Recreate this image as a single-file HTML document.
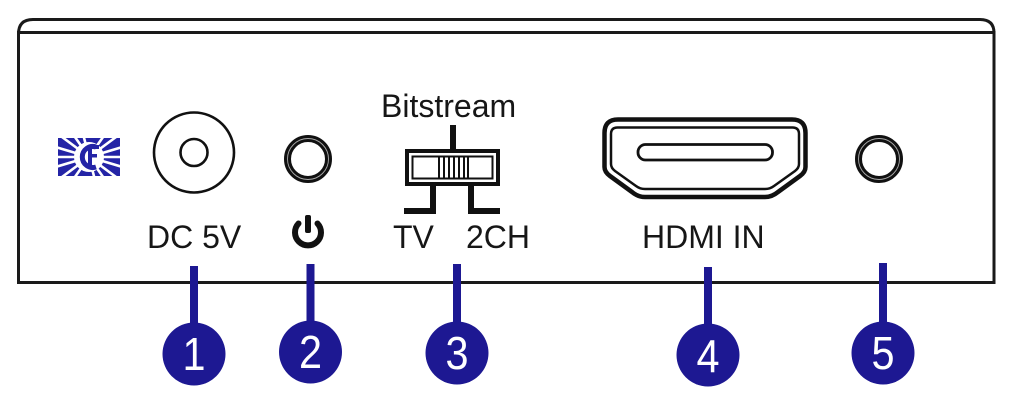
<!DOCTYPE html>
<html>
<head>
<meta charset="utf-8">
<style>
  html,body{margin:0;padding:0;background:#fff;}
  svg{display:block;}
  text{font-family:"Liberation Sans",Arial,sans-serif;}
</style>
</head>
<body>
<svg width="1012" height="405" viewBox="0 0 1012 405" xmlns="http://www.w3.org/2000/svg">
  <rect width="1012" height="405" fill="#fff"/>

  <!-- enclosure -->
  <g fill="none" stroke="#1a1a1a" stroke-width="3">
    <path d="M18.5 34 Q18.5 19.5 33 19.5 L980 19.5 Q994 19.5 994 33"/>
    <line x1="17" y1="32.5" x2="995.5" y2="32.5"/>
    <line x1="18.5" y1="31" x2="18.5" y2="284"/>
    <line x1="994" y1="31" x2="994" y2="284"/>
    <line x1="17" y1="282.5" x2="995.5" y2="282.5"/>
  </g>

  <!-- logo -->
  <defs>
    <clipPath id="lc"><rect x="58" y="138" width="62" height="38"/></clipPath>
  </defs>
  <g clip-path="url(#lc)">
    <rect x="58" y="138" width="62" height="38" fill="#2424a6"/>
    <g stroke="#fff" stroke-width="2.6">
      <line x1="89" y1="157" x2="50" y2="157"/>
      <line x1="89" y1="157" x2="128" y2="157"/>
      <line x1="89" y1="157" x2="52" y2="146"/>
      <line x1="89" y1="157" x2="52" y2="168"/>
      <line x1="89" y1="157" x2="126" y2="146"/>
      <line x1="89" y1="157" x2="126" y2="168"/>
      <line x1="89" y1="157" x2="58" y2="134"/>
      <line x1="89" y1="157" x2="58" y2="180"/>
      <line x1="89" y1="157" x2="120" y2="134"/>
      <line x1="89" y1="157" x2="120" y2="180"/>
      <line x1="89" y1="157" x2="70" y2="130"/>
      <line x1="89" y1="157" x2="70" y2="184"/>
      <line x1="89" y1="157" x2="108" y2="130"/>
      <line x1="89" y1="157" x2="108" y2="184"/>
      <line x1="89" y1="157" x2="82" y2="130"/>
      <line x1="89" y1="157" x2="96" y2="184"/>
    </g>
    <circle cx="89" cy="157" r="15" fill="#fff"/>
    <path d="M96 147 A10.5 10.5 0 1 0 96 167" fill="none" stroke="#2424a6" stroke-width="5"/>
    <rect x="88" y="145" width="4" height="20" fill="#2424a6"/>
    <rect x="88" y="145" width="11" height="4" fill="#2424a6"/>
    <rect x="88" y="154" width="9" height="3.5" fill="#2424a6"/>
  </g>

  <!-- DC jack -->
  <circle cx="194" cy="152.5" r="40" fill="none" stroke="#111" stroke-width="2.6"/>
  <circle cx="194" cy="152.5" r="13.5" fill="none" stroke="#111" stroke-width="2.6"/>

  <!-- LED 2 -->
  <circle cx="308" cy="159" r="20.5" fill="none" stroke="#111" stroke-width="7"/>
  <circle cx="308" cy="159" r="20.5" fill="none" stroke="#aaa" stroke-width="0.9"/>

  <!-- LED 5 -->
  <circle cx="879" cy="159" r="20.5" fill="none" stroke="#111" stroke-width="7"/>
  <circle cx="879" cy="159" r="20.5" fill="none" stroke="#aaa" stroke-width="0.9"/>

  <!-- power icon -->
  <path d="M298.5 223.5 A13 13 0 1 0 317.5 223.5" fill="none" stroke="#111" stroke-width="6" stroke-linecap="round"/>
  <rect x="305" y="215" width="6" height="18" rx="2" fill="#111"/>

  <!-- switch -->
  <rect x="450" y="125" width="6" height="26" fill="#111"/>
  <rect x="407" y="151" width="91" height="33" fill="none" stroke="#111" stroke-width="4"/>
  <rect x="412.5" y="156.5" width="80" height="22" fill="none" stroke="#111" stroke-width="2"/>
  <g stroke="#111" stroke-width="2">
    <line x1="439" y1="156" x2="439" y2="179"/>
    <line x1="444" y1="156" x2="444" y2="179"/>
    <line x1="449" y1="156" x2="449" y2="179"/>
    <line x1="454" y1="156" x2="454" y2="179"/>
    <line x1="459" y1="156" x2="459" y2="179"/>
    <line x1="464" y1="156" x2="464" y2="179"/>
    <line x1="468" y1="156" x2="468" y2="179"/>
  </g>
  <rect x="430" y="185" width="6" height="29" fill="#111"/>
  <rect x="404" y="208" width="32" height="6" fill="#111"/>
  <rect x="468" y="185" width="6" height="29" fill="#111"/>
  <rect x="468" y="208" width="32" height="6" fill="#111"/>

  <!-- HDMI -->
  <path d="M604.5 167 L604.5 133 Q604.5 119.5 618 119.5 L792 119.5 Q805.5 119.5 805.5 133 L805.5 167 Q805.5 172 800 176 L778 192 Q772 197 765 197 L645 197 Q638 197 632 192 L610 176 Q604.5 172 604.5 167 Z" fill="none" stroke="#111" stroke-width="4.5" stroke-linejoin="round"/>
  <path d="M611 164 L611 134 Q611 127.5 617.5 127.5 L792.5 127.5 Q799 127.5 799 134 L799 164 Q799 168 795 171 L774 186 Q770 189 765 189 L645 189 Q640 189 636 186 L615 171 Q611 168 611 164 Z" fill="none" stroke="#111" stroke-width="2.5" stroke-linejoin="round"/>
  <rect x="638" y="144.5" width="134.5" height="15.5" rx="7.5" fill="none" stroke="#111" stroke-width="2.8"/>

  <!-- labels -->
  <g fill="#161616" font-size="32">
    <text x="381" y="117">Bitstream</text>
    <text x="147" y="248">DC 5V</text>
    <text x="393" y="248">TV</text>
    <text x="466" y="248">2CH</text>
    <text x="642" y="248">HDMI IN</text>
  </g>

  <!-- callouts -->
  <g fill="#1d1892">
    <rect x="190" y="266" width="8" height="70"/>
    <circle cx="194" cy="354" r="31.5"/>
    <rect x="306.5" y="264" width="8" height="70"/>
    <circle cx="310.5" cy="352" r="31.5"/>
    <rect x="453" y="264" width="8" height="70"/>
    <circle cx="457" cy="353" r="31.5"/>
    <rect x="704" y="267" width="8" height="70"/>
    <circle cx="708" cy="355" r="31.5"/>
    <rect x="879" y="263" width="8" height="70"/>
    <circle cx="883" cy="353" r="31.5"/>
  </g>
  <g fill="#fff" font-size="46" text-anchor="middle">
    <text x="194" y="370" transform="translate(194 0) scale(0.9 1) translate(-194 0)">1</text>
    <text x="310.5" y="368" transform="translate(310.5 0) scale(0.9 1) translate(-310.5 0)">2</text>
    <text x="457" y="369" transform="translate(457 0) scale(0.9 1) translate(-457 0)">3</text>
    <text x="708" y="372" transform="translate(708 0) scale(0.9 1) translate(-708 0)">4</text>
    <text x="883" y="369" transform="translate(883 0) scale(0.9 1) translate(-883 0)">5</text>
  </g>
</svg>
</body>
</html>
